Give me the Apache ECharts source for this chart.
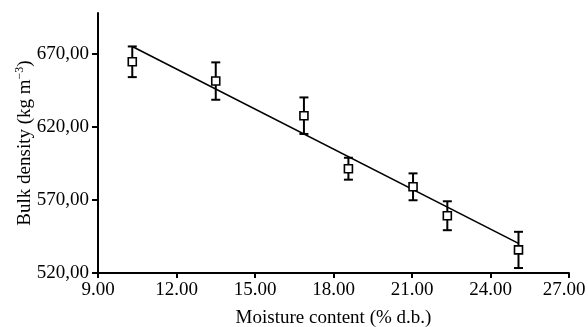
<!DOCTYPE html>
<html>
<head>
<meta charset="utf-8">
<script src="https://cdn.jsdelivr.net/npm/echarts@6/dist/echarts.min.js"></script>
<style>
  html, body { margin: 0; padding: 0; background: #fff; }
  #chart { width: 588px; height: 327px; }
</style>
</head>
<body>
<div id="chart"></div>
<script>
// Moisture content (% d.b.) of each sample
const moisture = [10.31, 13.50, 16.87, 18.57, 21.04, 22.35, 25.07];
// Mean bulk density (kg m^-3) and its standard deviation
const bulkDensity = [664.6, 651.4, 627.7, 591.4, 579.0, 559.2, 535.8];
const densityError = [10.5, 12.8, 12.5, 7.5, 9.2, 9.9, 12.4];
// Fitted regression line end points
const fitX = [10.31, 25.07];
const fitY = [675.1, 540.3];
// Axis tick values
const xTicks = [9, 12, 15, 18, 21, 24, 27];
const yTicks = [520, 570, 620, 670];

const FONT = '"Liberation Serif", "Times New Roman", serif';
const FS = 19;

const errData = moisture.map((x, i) => [x, bulkDensity[i], densityError[i]]);
const pointData = moisture.map((x, i) => [x, bulkDensity[i]]);
const fitData = fitX.map((x, i) => [x, fitY[i]]);

const chart = echarts.init(document.getElementById('chart'));
chart.setOption({
  animation: false,
  backgroundColor: '#fff',
  grid: { left: 98, right: 19, top: 13, bottom: 54, containLabel: false, outerBoundsMode: 'none' },
  xAxis: {
    type: 'value',
    min: 9, max: 27, interval: 3,
    name: 'Moisture content (% d.b.)',
    nameLocation: 'middle',
    nameGap: 36,
    nameMoveOverlap: false,
    nameTextStyle: { fontFamily: FONT, fontSize: FS, color: '#000' },
    axisLine: { show: true, onZero: false, lineStyle: { color: '#000', width: 2 } },
    axisTick: { show: true, length: 5, lineStyle: { color: '#000', width: 2 }, customValues: xTicks },
    axisLabel: {
      fontFamily: FONT, fontSize: FS, color: '#000', margin: 8,
      customValues: xTicks,
      // the last label is nudged left so it stays inside the canvas
      formatter: v => v === xTicks[xTicks.length - 1] ? '{last|' + v.toFixed(2) + '}' : v.toFixed(2),
      rich: {
        last: { fontFamily: FONT, fontSize: FS, color: '#000', padding: [0, 10, 0, 0] }
      }
    },
    splitLine: { show: false }
  },
  yAxis: {
    type: 'value',
    min: 520, max: 698, interval: 50,
    name: '{a|Bulk density (kg m}{s|−3}{a|)}',
    nameLocation: 'middle',
    nameGap: 62,
    nameMoveOverlap: false,
    nameRotate: 90,
    nameTextStyle: {
      fontFamily: FONT, fontSize: FS, color: '#000',
      rich: {
        a: { fontFamily: FONT, fontSize: FS, color: '#000', lineHeight: 22 },
        s: { fontFamily: FONT, fontSize: 12, color: '#000', verticalAlign: 'top', lineHeight: 22, padding: [0, 0, 8, 0] }
      }
    },
    axisLine: { show: true, onZero: false, lineStyle: { color: '#000', width: 2 } },
    axisTick: { show: true, length: 6, lineStyle: { color: '#000', width: 2 }, customValues: yTicks },
    axisLabel: {
      fontFamily: FONT, fontSize: FS, color: '#000', margin: 9,
      customValues: yTicks,
      formatter: v => v.toFixed(2).replace('.', ',')
    },
    splitLine: { show: false }
  },
  series: [
    {
      type: 'line',
      data: fitData,
      symbol: 'none',
      lineStyle: { color: '#000', width: 1.6 },
      z: 2
    },
    {
      type: 'custom',
      data: errData,
      z: 3,
      renderItem: function (params, api) {
        const x = api.value(0), m = api.value(1), e = api.value(2);
        const top = api.coord([x, m + e]);
        const bot = api.coord([x, m - e]);
        const hw = 4.5;
        const style = { stroke: '#000', lineWidth: 2, fill: null };
        return {
          type: 'group',
          children: [
            { type: 'line', shape: { x1: top[0], y1: top[1], x2: bot[0], y2: bot[1] }, style },
            { type: 'line', shape: { x1: top[0] - hw, y1: top[1], x2: top[0] + hw, y2: top[1] }, style },
            { type: 'line', shape: { x1: bot[0] - hw, y1: bot[1], x2: bot[0] + hw, y2: bot[1] }, style }
          ]
        };
      }
    },
    {
      type: 'scatter',
      data: pointData,
      symbol: 'rect',
      symbolSize: 8,
      itemStyle: { color: '#fff', borderColor: '#000', borderWidth: 1.6, opacity: 1 },
      z: 4
    }
  ]
});
</script>
</body>
</html>
